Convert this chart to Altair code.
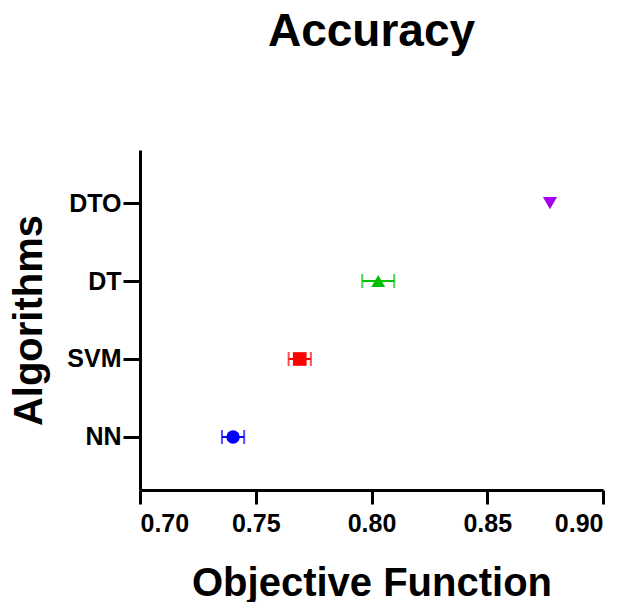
import altair as alt
import pandas as pd

# Data
algorithms = ["NN", "SVM", "DT", "DTO"]
means = [0.7402, 0.7690, 0.8029, 0.8771]
errors = [0.0048, 0.0048, 0.0069, 0.0]
order_top_to_bottom = ["DTO", "DT", "SVM", "NN"]
x_ticks = [0.70, 0.75, 0.80, 0.85, 0.90]

colors = ["#0000FF", "#FF0000", "#00C000", "#A400F0"]
shapes = ["circle", "square", "triangle-up", "triangle-down"]
sizes = [180, 200, 240, 240]

df = pd.DataFrame({"alg": algorithms, "mean": means, "err": errors})
df["lo"] = df["mean"] - df["err"]
df["hi"] = df["mean"] + df["err"]

FONT = "Liberation Sans"

x_scale = alt.Scale(domain=[0.70, 0.90], nice=False, zero=False)
x_axis = alt.Axis(values=x_ticks, format=".2f", title="Objective Function")
y_enc = alt.Y(
    "alg:N",
    sort=order_top_to_bottom,
    scale=alt.Scale(type="point", padding=0.68),
    axis=alt.Axis(title="Algorithms"),
)
color_enc = alt.Color("alg:N", scale=alt.Scale(domain=algorithms, range=colors), legend=None)

base = alt.Chart(df)
err_base = base.transform_filter("datum.err > 0")

rule = err_base.mark_rule(strokeWidth=2).encode(
    x=alt.X("lo:Q", scale=x_scale, axis=x_axis),
    x2="hi:Q",
    y=y_enc,
    color=color_enc,
)
cap_lo = err_base.mark_tick(thickness=2, size=14, orient="vertical").encode(
    x=alt.X("lo:Q", scale=x_scale, axis=x_axis), y=y_enc, color=color_enc
)
cap_hi = err_base.mark_tick(thickness=2, size=14, orient="vertical").encode(
    x=alt.X("hi:Q", scale=x_scale, axis=x_axis), y=y_enc, color=color_enc
)
points = base.mark_point(filled=True, opacity=1).encode(
    x=alt.X("mean:Q", scale=x_scale, axis=x_axis),
    y=y_enc,
    color=color_enc,
    shape=alt.Shape("alg:N", scale=alt.Scale(domain=algorithms, range=shapes), legend=None),
    size=alt.Size("alg:N", scale=alt.Scale(domain=algorithms, range=sizes), legend=None),
)

chart = (
    alt.layer(rule, cap_lo, cap_hi, points)
    .properties(
        width=463,
        height=340,
        title="Accuracy",
        autosize=alt.AutoSizeParams(type="none"),
        padding={"left": 132, "top": 142, "right": 15, "bottom": 112},
    )
    .configure_view(stroke=None)
    .configure_axis(
        grid=False,
        domainColor="black",
        domainWidth=3,
        tickColor="black",
        tickWidth=3,
        labelFont=FONT,
        labelFontWeight="bold",
        labelFontSize=25,
        labelColor="black",
        titleFont=FONT,
        titleFontWeight="bold",
        titleFontSize=40,
        titleColor="black",
    )
    .configure_axisX(tickSize=14, labelPadding=7, titlePadding=27)
    .configure_axisY(tickSize=17, labelPadding=2, titlePadding=17)
    .configure_title(
        font=FONT,
        fontSize=46,
        fontWeight="bold",
        color="black",
        anchor="middle",
        baseline="alphabetic",
        offset=94,
    )
)

chart.save("out.html", embed_options={"renderer": "svg", "actions": False})
